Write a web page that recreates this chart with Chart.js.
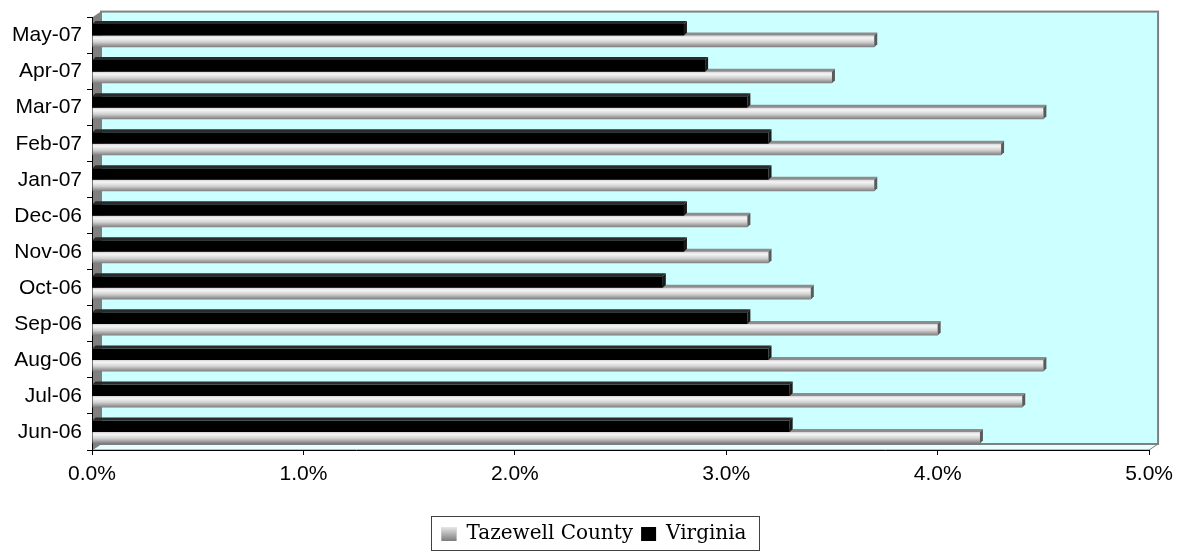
<!DOCTYPE html>
<html>
<head>
<meta charset="utf-8">
<script src="https://cdn.jsdelivr.net/npm/chart.js@4.4.0/dist/chart.umd.min.js"></script>
<style>
  html, body { margin: 0; padding: 0; background: #fff; }
</style>
</head>
<body>
<canvas id="chart" width="1180" height="554"></canvas>
<script>
// months, oldest first (Jun-06 ends up as the bottom row)
const months = ['Jun-06', 'Jul-06', 'Aug-06', 'Sep-06', 'Oct-06', 'Nov-06',
                'Dec-06', 'Jan-07', 'Feb-07', 'Mar-07', 'Apr-07', 'May-07'];
// unemployment rate in percent
const tazewell = [4.2, 4.4, 4.5, 4.0, 3.4, 3.2, 3.1, 3.7, 4.3, 4.5, 3.5, 3.7];
const virginia = [3.3, 3.3, 3.2, 3.1, 2.7, 2.8, 2.8, 3.2, 3.2, 3.1, 2.9, 2.8];
// x axis range / step (percent)
const xMin = 0, xMax = 5, xStep = 1;

const DX = 9, DY = 6;   // depth of the fake 3D walls
const D = 3;            // depth of each bar

const sansFont = 'Liberation Sans, Arial, sans-serif';

// back wall, left wall and floor behind everything
const wallsPlugin = {
    id: 'walls',
    beforeDraw(chart) {
        const { ctx, chartArea: a } = chart;
        ctx.save();
        // back wall
        ctx.fillStyle = '#ccffff';
        ctx.fillRect(a.left + DX, a.top - DY, a.right - a.left, a.bottom - a.top);
        // floor
        ctx.beginPath();
        ctx.moveTo(a.left, a.bottom);
        ctx.lineTo(a.left + DX, a.bottom - DY);
        ctx.lineTo(a.right + DX, a.bottom - DY);
        ctx.lineTo(a.right, a.bottom);
        ctx.closePath();
        ctx.fillStyle = '#e8ffff';
        ctx.fill();
        ctx.strokeStyle = '#808080';
        ctx.lineWidth = 1;
        ctx.stroke();
        // left wall
        ctx.beginPath();
        ctx.moveTo(a.left, a.top);
        ctx.lineTo(a.left + DX, a.top - DY);
        ctx.lineTo(a.left + DX, a.bottom - DY);
        ctx.lineTo(a.left, a.bottom);
        ctx.closePath();
        ctx.fillStyle = '#808080';
        ctx.fill();
        // back wall border
        ctx.strokeStyle = '#808080';
        ctx.lineWidth = 2;
        ctx.strokeRect(a.left + DX, a.top - DY, a.right - a.left, a.bottom - a.top);
        ctx.restore();
    }
};

function barBox(el) {
    const p = el.getProps(['x', 'y', 'base', 'height'], true);
    return { x0: Math.min(p.base, p.x), x1: Math.max(p.base, p.x), top: p.y - p.height / 2, bottom: p.y + p.height / 2 };
}

// gradient fill for the grey bars, plus top and end faces for every bar
const barsPlugin = {
    id: 'bars3d',
    beforeDatasetDraw(chart, args) {
        if (args.index !== 1) return;
        const ctx = chart.ctx;
        args.meta.data.forEach(el => {
            const b = barBox(el);
            const g = ctx.createLinearGradient(0, b.top, 0, b.bottom);
            g.addColorStop(0, '#d4d4d4');
            g.addColorStop(0.2, '#f6f6f6');
            g.addColorStop(0.55, '#d2d2d2');
            g.addColorStop(1, '#7c7c7c');
            el.options.backgroundColor = g;
        });
    },
    afterDatasetDraw(chart, args) {
        const ctx = chart.ctx;
        const grey = args.index === 1;
        ctx.save();
        args.meta.data.forEach(el => {
            const b = barBox(el);
            // top face
            ctx.beginPath();
            ctx.moveTo(b.x0, b.top);
            ctx.lineTo(b.x0 + D, b.top - D);
            ctx.lineTo(b.x1 + D, b.top - D);
            ctx.lineTo(b.x1, b.top);
            ctx.closePath();
            ctx.fillStyle = grey ? '#8c8c8c' : '#2a2a2a';
            ctx.fill();
            // end face
            ctx.beginPath();
            ctx.moveTo(b.x1, b.top);
            ctx.lineTo(b.x1 + D, b.top - D);
            ctx.lineTo(b.x1 + D, b.bottom - D);
            ctx.lineTo(b.x1, b.bottom);
            ctx.closePath();
            ctx.fillStyle = grey ? '#5a5a5a' : '#1a1a1a';
            ctx.fill();
        });
        ctx.restore();
    }
};

// the legend in the original sits a bit right of the page centre
// (hit boxes are recomputed by the legend plugin in afterUpdate)
const legendShift = {
    id: 'legendShift',
    afterLayout(chart) {
        const lg = chart.legend;
        if (!lg) return;
        lg.left += 18;
        lg.right += 18;
    }
};

// border round the legend and the gradient swatch
const legendBoxPlugin = {
    id: 'legendBox',
    afterDraw(chart) {
        const lg = chart.legend;
        if (!lg || !lg.legendHitBoxes.length) return;
        const hb = lg.legendHitBoxes;
        const ctx = chart.ctx;
        const left = Math.min(...hb.map(h => h.left)) - 10;
        const right = Math.max(...hb.map(h => h.left + h.width)) + 13;
        const top = hb[0].top - 8;
        const bottom = hb[0].top + hb[0].height + 6;
        ctx.save();
        ctx.strokeStyle = '#404040';
        ctx.lineWidth = 1;
        ctx.strokeRect(Math.round(left) + 0.5, Math.round(top) + 0.5, Math.round(right - left), Math.round(bottom - top));
        // gradient swatch for Tazewell County
        const bw = lg.options.labels.boxWidth, bh = lg.options.labels.boxHeight;
        const fs = lg.options.labels.font.size;
        const sy = hb[0].top + Math.max((fs - bh) / 2, 0);
        const g = ctx.createLinearGradient(0, sy, 0, sy + bh);
        g.addColorStop(0, '#e8e8e8');
        g.addColorStop(1, '#7c7c7c');
        ctx.fillStyle = g;
        ctx.fillRect(hb[0].left, sy, bw, bh);
        ctx.restore();
    }
};

new Chart(document.getElementById('chart').getContext('2d'), {
    type: 'bar',
    data: {
        labels: months,
        datasets: [
            { label: 'Virginia', data: virginia, backgroundColor: '#000000', borderWidth: 0 },
            { label: 'Tazewell County', data: tazewell, backgroundColor: () => '#c8c8c8', borderWidth: 0 }
        ]
    },
    options: {
        indexAxis: 'y',
        responsive: false,
        devicePixelRatio: 1,
        animation: false,
        layout: { padding: { left: 2, right: 30, top: 15, bottom: 0 } },
        datasets: { bar: { categoryPercentage: 0.64, barPercentage: 1.0 } },
        scales: {
            x: {
                min: xMin,
                max: xMax,
                afterFit: s => { s.height = 66; },
                grid: { drawOnChartArea: false, drawTicks: true, tickLength: 5, color: '#000' },
                border: { display: true, color: '#000', width: 1 },
                ticks: {
                    stepSize: xStep,
                    padding: 7,
                    color: '#000',
                    font: { family: sansFont, size: 21 },
                    callback: v => v.toFixed(1) + '%'
                }
            },
            y: {
                reverse: true,
                afterFit: s => { s.width = 90; },
                grid: { drawOnChartArea: false, drawTicks: true, tickLength: 5, color: '#000', offset: true },
                border: { display: true, color: '#000', width: 1 },
                ticks: {
                    padding: 5,
                    color: '#000',
                    font: { family: sansFont, size: 21 }
                }
            }
        },
        plugins: {
            tooltip: { enabled: false },
            legend: {
                position: 'bottom',
                labels: {
                    boxWidth: 15,
                    boxHeight: 14,
                    padding: 8,
                    color: '#000',
                    font: { family: 'DejaVu Serif, serif', size: 20 },
                    generateLabels: () => [
                        { text: 'Tazewell County', fillStyle: '#bbbbbb', strokeStyle: '#bbbbbb', lineWidth: 0, datasetIndex: 1 },
                        { text: 'Virginia', fillStyle: '#000000', strokeStyle: '#000000', lineWidth: 0, datasetIndex: 0 }
                    ]
                }
            }
        }
    },
    plugins: [wallsPlugin, barsPlugin, legendShift, legendBoxPlugin]
});
</script>
</body>
</html>
